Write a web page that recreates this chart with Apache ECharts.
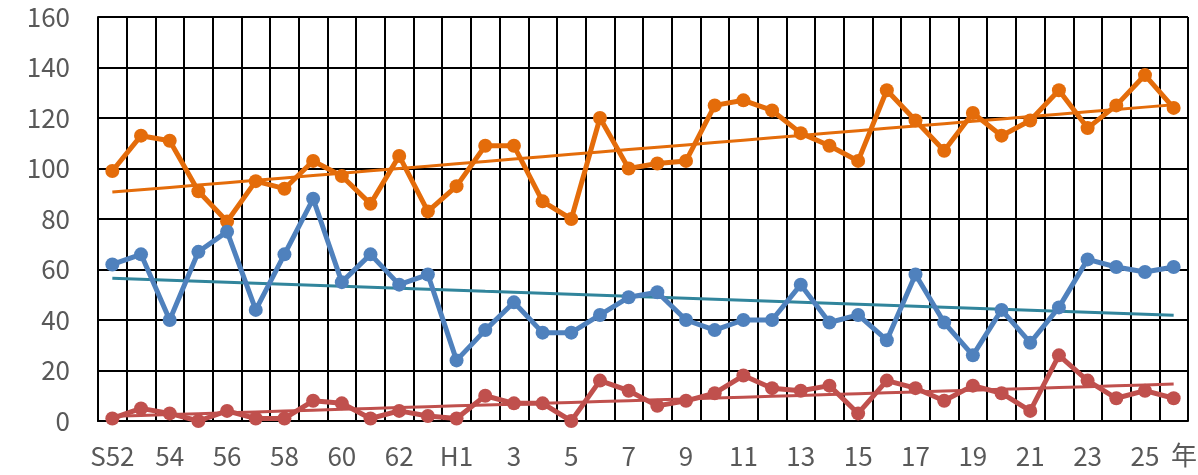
<!DOCTYPE html>
<html>
<head>
<meta charset="utf-8">
<script src="https://cdn.jsdelivr.net/npm/echarts@6/dist/echarts.min.js"></script>
<style>
  html, body { margin: 0; padding: 0; background: #fff; }
  #chart { width: 1198px; height: 475px; }
</style>
</head>
<body>
<div id="chart"></div>
<script>
// Years: Showa 52–63, then Heisei 1–26
const years = ['S52','53','54','55','56','57','58','59','60','61','62','63',
  'H1','2','3','4','5','6','7','8','9','10','11','12','13','14','15','16','17',
  '18','19','20','21','22','23','24','25','26'];

const orangeValues = [99,113,111,91,79,95,92,103,97,86,105,83,
  93,109,109,87,80,120,100,102,103,125,127,123,114,109,103,131,119,
  107,122,113,119,131,116,125,137,124];

const blueValues = [62,66,40,67,75,44,66,88,55,66,54,58,
  24,36,47,35,35,42,49,51,40,36,40,40,54,39,42,32,58,
  39,26,44,31,45,64,61,59,61];

const redValues = [1,5,3,0,4,1,1,8,7,1,4,2,
  1,10,7,7,0,16,12,6,8,11,18,13,12,14,3,16,13,
  8,14,11,4,26,16,9,12,9];

const yTicks = { min: 0, max: 160, interval: 20 };

// Least-squares linear trend over the category index
function linearTrend(values) {
  const n = values.length;
  let sx = 0, sy = 0, sxx = 0, sxy = 0;
  values.forEach((v, i) => { sx += i; sy += v; sxx += i * i; sxy += i * v; });
  const b = (n * sxy - sx * sy) / (n * sxx - sx * sx);
  const a = (sy - b * sx) / n;
  return values.map((_, i) => +(a + b * i).toFixed(3));
}

const COLORS = { orange: '#E46C0A', blue: '#4F81BD', red: '#C0504D', teal: '#31859C' };
const FONT = '"Noto Sans CJK JP", "Noto Sans", sans-serif';
const FONT_SIZE = 26;

function dataSeries(values, color) {
  return {
    type: 'line', data: values, symbol: 'circle', symbolSize: 14,
    lineStyle: { color, width: 5 }, itemStyle: { color }, z: 3,
    animation: false
  };
}
function trendSeries(values, color) {
  return {
    type: 'line', data: linearTrend(values), symbol: 'none',
    lineStyle: { color, width: 3 }, z: 2, animation: false
  };
}

const chart = echarts.init(document.getElementById('chart'), null, { renderer: 'canvas' });
chart.setOption({
  animation: false,
  backgroundColor: '#fff',
  grid: { left: 98, right: 10, top: 17, bottom: 54 },
  xAxis: {
    type: 'category', data: years, boundaryGap: true,
    axisLine: { lineStyle: { color: '#000', width: 2 } },
    axisTick: { show: false },
    axisLabel: { interval: 1, color: '#595959', fontSize: FONT_SIZE, fontFamily: FONT, margin: 22 },
    splitLine: { show: true, interval: 0, lineStyle: { color: '#000', width: 2 } }
  },
  yAxis: {
    type: 'value', min: yTicks.min, max: yTicks.max, interval: yTicks.interval,
    axisLine: { show: true, lineStyle: { color: '#000', width: 2 } },
    axisTick: { show: false },
    axisLabel: { color: '#595959', fontSize: FONT_SIZE, fontFamily: FONT, margin: 28 },
    splitLine: { show: true, lineStyle: { color: '#000', width: 2 } }
  },
  graphic: [{
    type: 'text', left: 1171, top: 442,
    style: { text: '年', fill: '#595959', font: FONT_SIZE + 'px ' + FONT }
  }],
  series: [
    trendSeries(orangeValues, COLORS.orange),
    trendSeries(blueValues, COLORS.teal),
    trendSeries(redValues, COLORS.red),
    dataSeries(orangeValues, COLORS.orange),
    dataSeries(blueValues, COLORS.blue),
    dataSeries(redValues, COLORS.red)
  ]
});
</script>
</body>
</html>
